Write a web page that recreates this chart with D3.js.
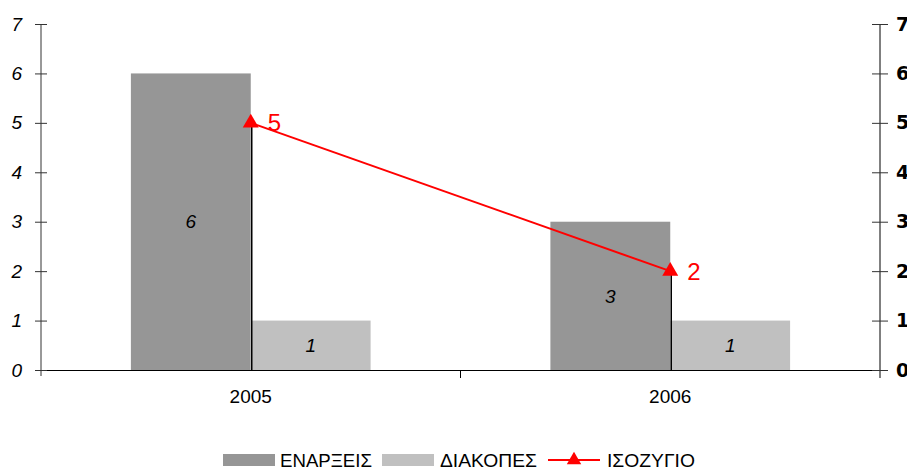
<!DOCTYPE html>
<html>
<head>
<meta charset="utf-8">
<script src="https://cdn.jsdelivr.net/npm/d3@7"></script>
<style>
  body { margin: 0; background: #fff; }
  svg { display: block; font-family: 'Liberation Sans', Arial, sans-serif; }
</style>
</head>
<body>
<svg id="chart" width="907" height="468"></svg>
<script>
const years = ['2005', '2006']
const series = ['ΕΝΑΡΞΕΙΣ', 'ΔΙΑΚΟΠΕΣ']
const starts = [6, 3]
const stops = [1, 1]
const balance = [5, 2]
const lineName = 'ΙΣΟΖΥΓΙΟ'
const yTicks = [0, 1, 2, 3, 4, 5, 6, 7]

const barColors = ['#969696', '#c0c0c0']
const red = '#ff0000'
const fmt = d3.format('d')

const margin = { top: 24, right: 27, bottom: 98, left: 41 }
const width = 907 - margin.left - margin.right
const height = 468 - margin.top - margin.bottom

const svg = d3.select('#chart')
const g = svg.append('g').attr('transform', `translate(${margin.left},${margin.top})`)

const x = d3.scaleBand().domain(years).range([0, width]).paddingInner(0).paddingOuter(0)
const xs = d3.scaleBand().domain(series).range([0, x.bandwidth()]).paddingInner(0).paddingOuter(0.75)
const y = d3.scaleLinear().domain([0, 7]).range([height, 0])

const rows = years.map((yr, i) => ({ year: yr, values: [starts[i], stops[i]], bal: balance[i] }))

// bars
const groups = g.selectAll('.grp')
  .data(rows)
  .enter()
  .append('g')
    .attr('class', 'grp')
    .attr('transform', d => `translate(${x(d.year)},0)`)

groups.selectAll('rect')
  .data(d => d.values.map((v, j) => ({ key: series[j], v, j })))
  .enter()
  .append('rect')
    .attr('x', d => xs(d.key))
    .attr('y', d => y(d.v))
    .attr('width', xs.bandwidth())
    .attr('height', d => height - y(d.v))
    .attr('fill', d => barColors[d.j])

groups.selectAll('.blabel')
  .data(d => d.values.map((v, j) => ({ key: series[j], v, j })))
  .enter()
  .append('text')
    .attr('class', 'blabel')
    .attr('x', d => xs(d.key) + xs.bandwidth() / 2)
    .attr('y', d => (y(d.v) + height) / 2)
    .attr('dy', '0.35em')
    .attr('text-anchor', 'middle')
    .attr('font-size', 19)
    .attr('font-style', 'italic')
    .attr('fill', '#000')
    .text(d => d.v)

// x axis
const xAxis = d3.axisBottom(x).tickSize(0).tickPadding(20)
const xg = g.append('g').attr('transform', `translate(0,${height})`).call(xAxis)
xg.select('.domain').attr('stroke', '#000').attr('stroke-width', 1)
xg.selectAll('text').attr('font-size', 19).attr('fill', '#000').attr('font-family', 'Liberation Sans, Arial, sans-serif')
xg.selectAll('.sep')
  .data([years[1]])
  .enter()
  .append('line')
    .attr('x1', d => x(d)).attr('x2', d => x(d))
    .attr('y1', 0).attr('y2', 8)
    .attr('stroke', '#000')

// left axis
const yAxisL = d3.axisLeft(y).tickValues(yTicks).tickFormat(fmt).tickSizeOuter(0).tickSize(6).tickPadding(13)
const yl = g.append('g').call(yAxisL)
yl.select('.domain').attr('d', `M0,0V${height + 6}`).attr('stroke', '#333')
yl.selectAll('.tick line').attr('x1', -6).attr('x2', 6).attr('stroke', '#333')
yl.selectAll('text').attr('font-size', 19).attr('font-style', 'italic').attr('fill', '#000')
  .attr('font-family', 'Liberation Sans, Arial, sans-serif')

// right axis
const yAxisR = d3.axisRight(y).tickValues(yTicks).tickFormat(fmt).tickSizeOuter(0).tickSize(8).tickPadding(8)
const yr = g.append('g').attr('transform', `translate(${width},0)`).call(yAxisR)
yr.select('.domain').attr('d', `M0,0V${height + 8}`).attr('stroke', '#000')
yr.selectAll('.tick line').attr('x1', -8).attr('x2', 8).attr('stroke', '#333')
yr.selectAll('text').attr('font-size', 19).attr('font-weight', 'bold').attr('fill', '#000')
  .attr('font-family', 'DejaVu Sans, sans-serif')

// drop lines
g.selectAll('.drop')
  .data(rows)
  .enter()
  .append('line')
    .attr('x1', d => x(d.year) + x.bandwidth() / 2 + 1)
    .attr('x2', d => x(d.year) + x.bandwidth() / 2 + 1)
    .attr('y1', d => y(d.bal))
    .attr('y2', height)
    .attr('stroke', '#000')
    .attr('stroke-width', 1.5)

// balance line
const line = d3.line()
  .x(d => x(d.year) + x.bandwidth() / 2)
  .y(d => y(d.bal))
g.append('path')
  .datum(rows)
  .attr('d', line)
  .attr('fill', 'none')
  .attr('stroke', red)
  .attr('stroke-width', 2)

const tri = d3.symbol().type(d3.symbolTriangle).size(110)
g.selectAll('.mk')
  .data(rows)
  .enter()
  .append('path')
    .attr('d', tri)
    .attr('transform', d => `translate(${x(d.year) + x.bandwidth() / 2},${y(d.bal)})`)
    .attr('fill', red)

g.selectAll('.llabel')
  .data(rows)
  .enter()
  .append('text')
    .attr('x', d => x(d.year) + x.bandwidth() / 2 + 17)
    .attr('y', d => y(d.bal))
    .attr('dy', '0.35em')
    .attr('font-size', 24)
    .attr('fill', red)
    .text(d => d.bal)

// legend
const legend = svg.append('g').attr('transform', 'translate(0,460)')
const items = [
  { name: series[0], type: 'rect', color: barColors[0], x: 223, tx: 280, tw: 92 },
  { name: series[1], type: 'rect', color: barColors[1], x: 382, tx: 440, tw: 97 },
  { name: lineName, type: 'line', color: red, x: 548, tx: 607, tw: 88 }
]
items.forEach(it => {
  if (it.type === 'rect') {
    legend.append('rect').attr('x', it.x).attr('y', -6).attr('width', 52).attr('height', 12).attr('fill', it.color)
  } else {
    legend.append('line').attr('x1', it.x).attr('x2', it.x + 52).attr('y1', 0).attr('y2', 0)
      .attr('stroke', it.color).attr('stroke-width', 2)
    legend.append('path').attr('d', d3.symbol().type(d3.symbolTriangle).size(90))
      .attr('transform', `translate(${it.x + 26},0)`).attr('fill', it.color)
  }
  legend.append('text')
    .attr('x', it.tx)
    .attr('y', 0)
    .attr('dy', '0.36em')
    .attr('font-size', 19)
    .attr('textLength', it.tw)
    .attr('lengthAdjust', 'spacingAndGlyphs')
    .attr('fill', '#000')
    .text(it.name)
})
</script>
</body>
</html>
